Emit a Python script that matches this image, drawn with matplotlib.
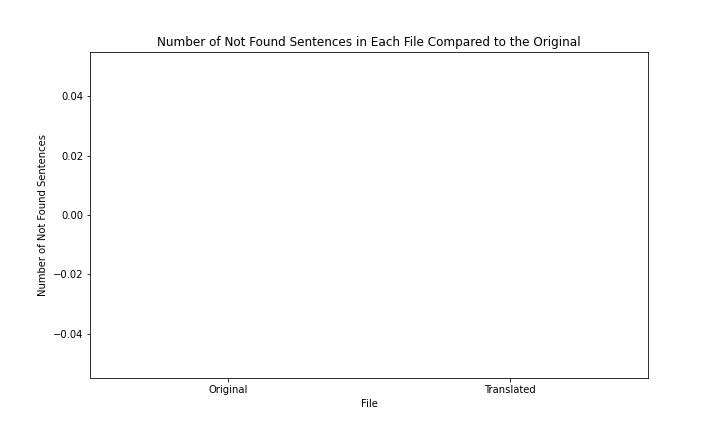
import matplotlib
matplotlib.use("Agg")
import matplotlib.pyplot as plt

files = ["Original", "Translated"]
not_found = [0, 0]

fig = plt.figure(figsize=(10, 6), dpi=72)
ax = fig.add_subplot(111)
ax.bar(files, not_found, color="#1f77b4")
ax.set_xlabel("File")
ax.set_ylabel("Number of Not Found Sentences")
ax.set_title("Number of Not Found Sentences in Each File Compared to the Original")
fig.subplots_adjust(bottom=0.125)
plt.savefig("out.png", dpi=72)
